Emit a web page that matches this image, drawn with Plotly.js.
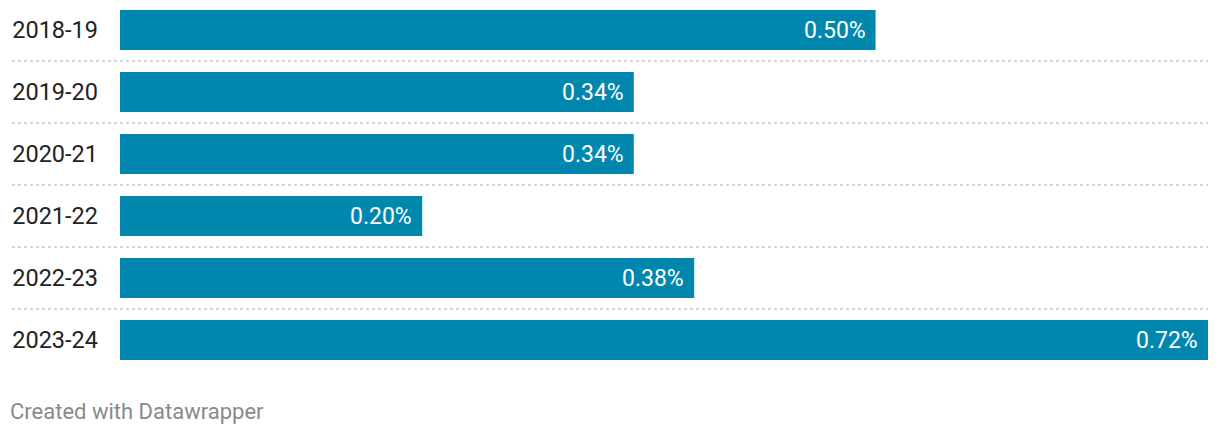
<!DOCTYPE html>
<html>
<head>
<meta charset="utf-8">
<script src="https://cdn.plot.ly/plotly-3.0.1.min.js"></script>
<style>
html,body{margin:0;padding:0;background:#fff;}
#chart{width:1220px;height:436px;}
</style>
</head>
<body>
<div id="chart"></div>
<script>
var categories = ["2018-19","2019-20","2020-21","2021-22","2022-23","2023-24"];
var values = [0.50, 0.34, 0.34, 0.20, 0.38, 0.72];
var valueLabels = ["0.50%","0.34%","0.34%","0.20%","0.38%","0.72%"];
var footer = "Created with Datawrapper";

var W = 1220, H = 436;
var mL = 120, mR = 12, mT = 0;
var plotW = W - mL - mR;
var plotH = 372;
var mB = H - mT - plotH;
var rowPx = 62;
var r0 = -30 / rowPx;
var r1 = r0 + plotH / rowPx;

var trace = {
  type: 'bar',
  orientation: 'h',
  x: values,
  y: categories,
  marker: {color: '#0187ae'},
  hoverinfo: 'none',
  width: 40 / rowPx
};

var annotations = values.map(function(v, i){
  return {
    x: v, y: categories[i], xref: 'x', yref: 'y',
    text: valueLabels[i], showarrow: false,
    xanchor: 'right', xshift: -8,
    font: {family: 'Roboto', size: 23, color: '#ffffff'}
  };
});
annotations.push({
  xref: 'paper', yref: 'paper',
  x: (8 - mL) / plotW, y: -(412 - plotH) / plotH,
  xanchor: 'left', yanchor: 'middle',
  text: footer, showarrow: false,
  font: {family: 'Roboto', size: 22, color: '#8a8a8a'}
});

var shapes = [];
for (var i = 0; i < categories.length - 1; i++) {
  shapes.push({
    type: 'line', xref: 'paper', yref: 'y',
    x0: (12 - mL) / plotW, x1: 1,
    y0: i + 0.5, y1: i + 0.5,
    line: {color: '#c8c8c8', width: 1.3, dash: 'dot'}
  });
}

var layout = {
  width: W, height: H,
  margin: {l: mL, r: mR, t: mT, b: mB, pad: 0},
  paper_bgcolor: '#ffffff', plot_bgcolor: '#ffffff',
  showlegend: false,
  xaxis: {
    range: [0, Math.max.apply(null, values)],
    visible: false, fixedrange: true
  },
  yaxis: {
    type: 'category',
    range: [r1, r0],
    showgrid: false, zeroline: false, showline: false,
    ticks: '', ticklabelstandoff: 21,
    tickfont: {family: 'Roboto', size: 23.5, color: '#222222'},
    fixedrange: true
  },
  shapes: shapes,
  annotations: annotations
};

Plotly.newPlot('chart', [trace], layout, {displayModeBar: false, staticPlot: true});
</script>
</body>
</html>
